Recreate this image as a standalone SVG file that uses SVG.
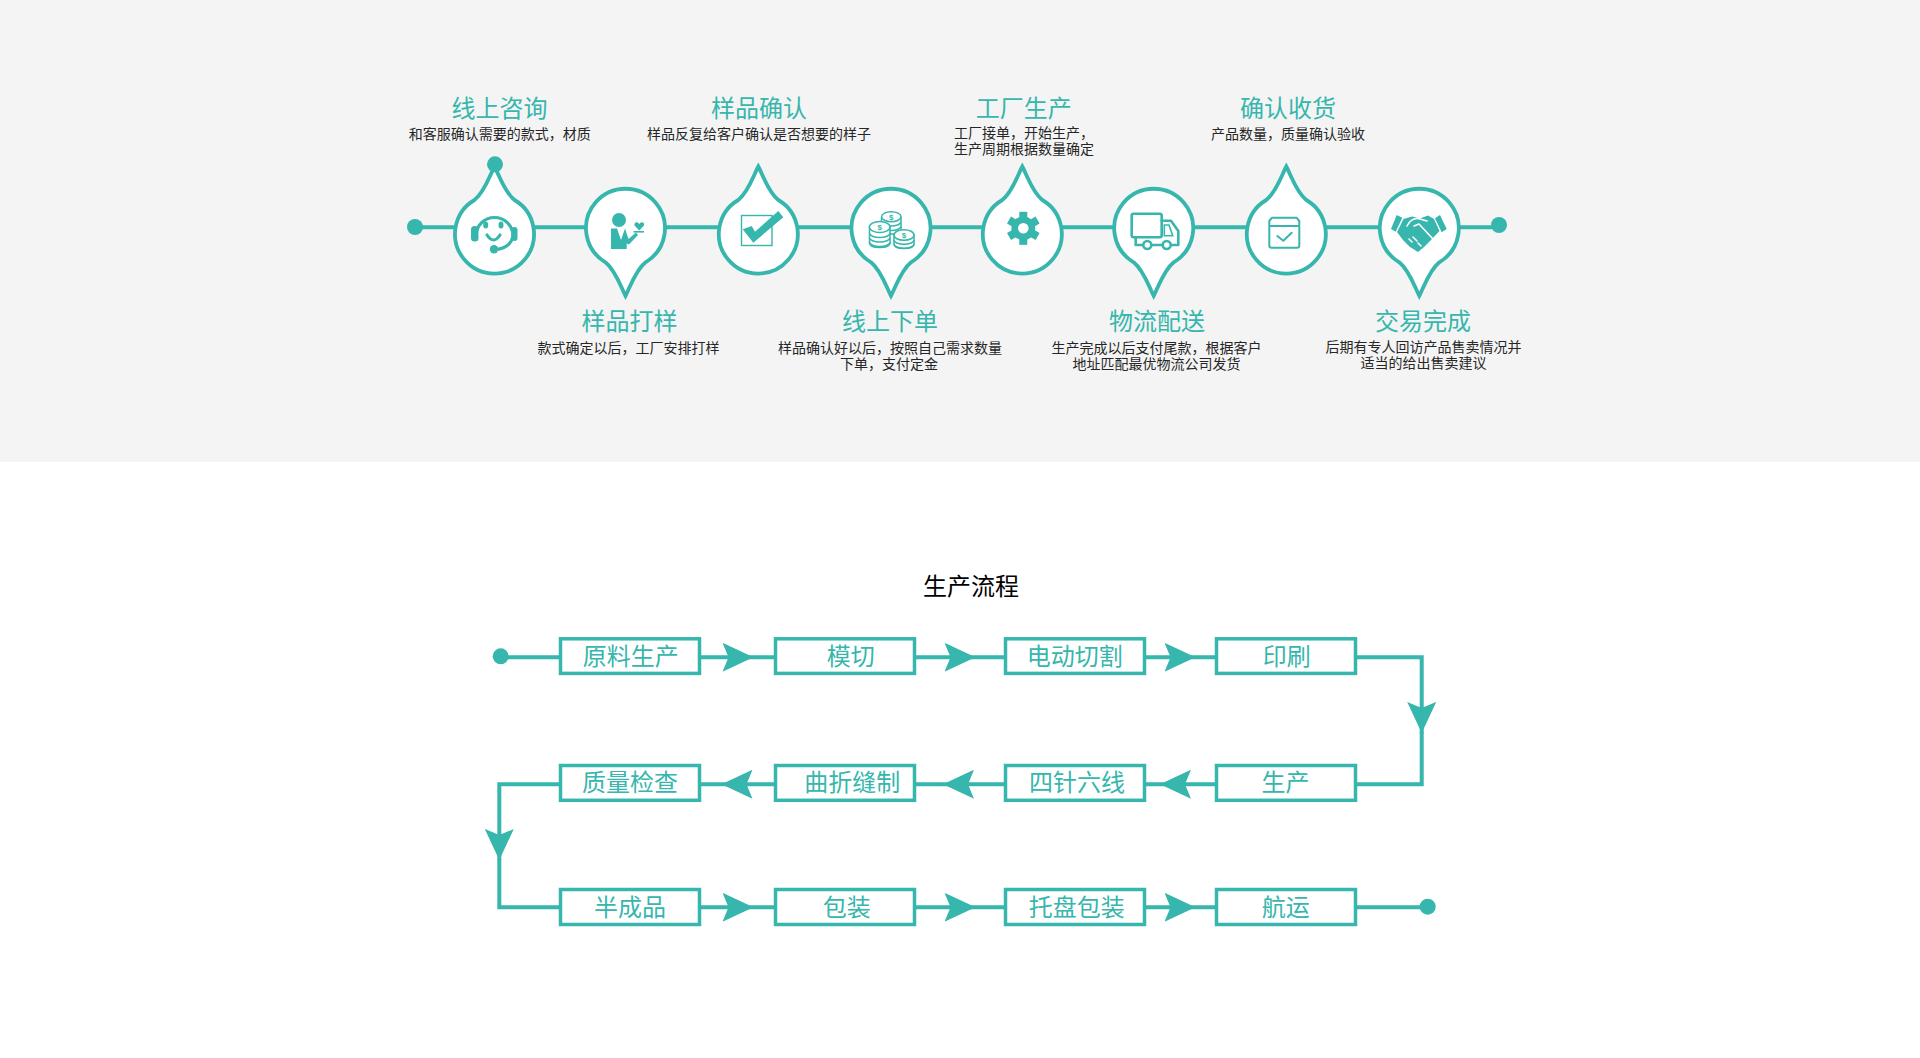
<svg xmlns="http://www.w3.org/2000/svg" width="1920" height="1058" viewBox="0 0 1920 1058">
<style>
text{font-family:"Noto Sans CJK SC","Noto Sans",sans-serif;text-anchor:middle}
.t{font-size:24px;fill:#36b6ac}
.s{font-size:14px;fill:#262626}
.h{font-size:24px;fill:#000}
.drop{fill:#fff;stroke:#36b6ac;stroke-width:3.8;stroke-linejoin:miter;stroke-miterlimit:8}
.ln{fill:none;stroke:#36b6ac;stroke-width:4}
.dot{fill:#36b6ac}
.box{fill:#fff;stroke:#36b6ac;stroke-width:3.5}
.fi{fill:#36b6ac}
.li{fill:none;stroke:#36b6ac;stroke-width:2.6;stroke-linejoin:round;stroke-linecap:round}
.wl{fill:none;stroke:#fff;stroke-width:1.6;stroke-linecap:round;stroke-linejoin:round}
.d{font-size:8px;font-weight:700;fill:#36b6ac;font-family:"Liberation Sans",sans-serif}
</style>
<defs>
<path id="dr" d="M0,-67.5C5,-58 10,-42 20,-34A39.5,39.5 0 1 1 -20,-34C-10,-42 -5,-58 0,-67.5Z"/>
<marker id="a" markerUnits="userSpaceOnUse" markerWidth="32" markerHeight="29" viewBox="0 0 32 29" refX="31" refY="14.5" orient="auto"><path d="M0,0L31,14.5L0,29L6,14.5Z" fill="#36b6ac"/></marker>
<g id="gt"><rect x="-4" y="-16.5" width="8" height="7"/></g>
</defs>
<rect id="band" x="0" y="0" width="1920" height="462" fill="#f4f4f4"/>
<g id="connectors">
<path class="ln" d="M415,227.3H1499"/>
<path class="ln" d="M501,657.3H560"/>
<path class="ln" marker-mid="url(#a)" d="M700,657.3H753.5H775"/>
<path class="ln" marker-mid="url(#a)" d="M915,657.3H975.5H1005"/>
<path class="ln" marker-mid="url(#a)" d="M1145,657.3H1195.5H1216"/>
<path class="ln" marker-end="url(#a)" d="M1356,657.3H1421.7V733"/>
<path class="ln" d="M1421.7,732V784.2H1356"/>
<path class="ln" marker-mid="url(#a)" d="M1216,784.2H1160H1145"/>
<path class="ln" marker-mid="url(#a)" d="M1005,784.2H943H915"/>
<path class="ln" marker-mid="url(#a)" d="M775,784.2H721.5H700"/>
<path class="ln" marker-end="url(#a)" d="M560,784.2H499.3V860"/>
<path class="ln" d="M499.3,859V907.3H560"/>
<path class="ln" marker-mid="url(#a)" d="M700,907.3H753.5H775"/>
<path class="ln" marker-mid="url(#a)" d="M915,907.3H975.5H1005"/>
<path class="ln" marker-mid="url(#a)" d="M1145,907.3H1195.5H1216"/>
<path class="ln" d="M1356,907.3H1428"/>
</g>
<g id="top-start"><circle class="dot" cx="415" cy="227" r="8"/></g>
<g id="top-end"><circle class="dot" cx="1499" cy="225" r="8"/></g>

<g id="n-consult">
<use href="#dr" class="drop" transform="translate(494.5,234)"/>
<circle class="dot" cx="495" cy="164.3" r="8"/>
<path d="M476,236A18.5,18.5 0 1 1 513,236Q511,247 497,249.5" fill="none" stroke="#36b6ac" stroke-width="3.2"/>
<circle class="fi" cx="494" cy="249.3" r="4.2"/>
<rect class="fi" x="471" y="226" width="7.5" height="15.5" rx="3.5"/>
<rect class="fi" x="511.5" y="227" width="6" height="14" rx="3"/>
<ellipse class="fi" cx="485.7" cy="225" rx="2.5" ry="3.5"/>
<ellipse class="fi" cx="501" cy="225" rx="2.5" ry="3.5"/>
<path d="M487,235Q493.5,245 500,235" fill="none" stroke="#36b6ac" stroke-width="3.2" stroke-linecap="round"/>
<text class="t" x="499.6" y="117">线上咨询</text>
<text class="s" x="499.8" y="139">和客服确认需要的款式，材质</text>
</g>

<g id="n-sample">
<use href="#dr" class="drop" transform="translate(625.5,228.3) scale(1,-1)"/>
<circle class="fi" cx="619" cy="220" r="7"/>
<path class="fi" d="M611,228.5H617L621,240L625,228.5L628.5,239L636,232.5L638,235L629,244.5L626.7,243.5V249H611Z"/>
<path class="fi" d="M639.3,230.5L634.5,225.5Q634,222.5 636.5,222.3Q638.5,222.3 639.3,224Q640,222.3 642.2,222.3Q644.5,222.5 644,225.5Z"/>
<rect class="fi" x="633.5" y="231" width="10.5" height="1.6"/>
<text class="t" x="629.4" y="330">样品打样</text>
<text class="s" x="628.6" y="353">款式确定以后，工厂安排打样</text>
</g>

<g id="n-confirm">
<use href="#dr" class="drop" transform="translate(758.3,234)"/>
<rect x="741.5" y="215.5" width="30.5" height="30" fill="none" stroke="#36b6ac" stroke-width="1.4"/>
<path class="fi" d="M742.7,229.3L751.7,226L755,231.7L778.3,211L783.3,217.3L753.3,242.7Z"/>
<text class="t" x="759" y="117">样品确认</text>
<text class="s" x="759" y="139">样品反复给客户确认是否想要的样子</text>
</g>

<g id="n-order">
<use href="#dr" class="drop" transform="translate(891,228.3) scale(1,-1)"/>
<g fill="#fff" stroke="#36b6ac" stroke-width="1.5">
<path d="M881.5,217V234H901V217"/><path d="M881.5,221.5A9.7,4.5 0 0 0 901,221.5M881.5,226A9.7,4.5 0 0 0 901,226"/>
<ellipse cx="891.3" cy="216.7" rx="9.7" ry="5"/>
<path d="M869.5,227.5V243Q869.5,247.5 879.7,247.5Q890,247.5 890,243V227.5Z"/><path d="M869.5,233A10.2,4.5 0 0 0 890,233M869.5,237.5A10.2,4.5 0 0 0 890,237.5M869.5,242A10.2,4.5 0 0 0 890,242"/>
<ellipse cx="879.7" cy="227" rx="10.3" ry="5.5"/>
<path d="M894,235V244Q894,248.5 904,248.5Q914,248.5 914,244V235Z"/><path d="M894,240A10,4.2 0 0 0 914,240M894,244A10,4.2 0 0 0 914,244" fill="none"/>
<ellipse cx="904" cy="235" rx="10" ry="5.3"/>
</g>
<text class="d" x="891.3" y="219.5">$</text>
<text class="d" x="879.7" y="230">$</text>
<text class="d" x="904" y="238">$</text>
<text class="t" x="890" y="330">线上下单</text>
<text class="s"><tspan x="890" y="353">样品确认好以后，按照自己需求数量</tspan><tspan x="889" y="369">下单，支付定金</tspan></text>
</g>

<g id="n-factory">
<use href="#dr" class="drop" transform="translate(1022.3,234)"/>
<g class="fi" transform="translate(1023.3,228.3)">
<use href="#gt"/><use href="#gt" transform="rotate(60)"/><use href="#gt" transform="rotate(120)"/><use href="#gt" transform="rotate(180)"/><use href="#gt" transform="rotate(240)"/><use href="#gt" transform="rotate(300)"/>
<circle r="8.6" fill="none" stroke="#36b6ac" stroke-width="6.6"/>
</g>
<text class="t" x="1023.7" y="117">工厂生产</text>
<text class="s"><tspan x="1024" y="138">工厂接单，开始生产，</tspan><tspan x="1024" y="154">生产周期根据数量确定</tspan></text>
</g>

<g id="n-logistics">
<use href="#dr" class="drop" transform="translate(1153.7,228.3) scale(1,-1)"/>
<rect class="li" x="1131.7" y="213.7" width="30" height="23.6" rx="2"/>
<path class="li" d="M1161.7,220.7H1171L1178.3,231V245H1172M1162,245H1152M1143,245H1135.7V237.5"/>
<path d="M1164.3,225H1169L1172.7,235.7H1164.3Z" fill="none" stroke="#36b6ac" stroke-width="1.6"/>
<circle class="li" cx="1147.3" cy="245" r="4"/><circle class="li" cx="1166.7" cy="245" r="4"/>
<text class="t" x="1157" y="330">物流配送</text>
<text class="s"><tspan x="1156.6" y="353">生产完成以后支付尾款，根据客户</tspan><tspan x="1156.6" y="369">地址匹配最优物流公司发货</tspan></text>
</g>

<g id="n-receive">
<use href="#dr" class="drop" transform="translate(1286.3,234)"/>
<path class="li" style="stroke-width:2" d="M1272,217.7H1296.5L1299.3,221V245.5Q1299.3,247.7 1297,247.7H1271.5Q1269.3,247.7 1269.3,245.5V221ZM1269.3,226H1299.3"/>
<path class="li" style="stroke-width:2" d="M1277.3,236L1283.3,240.7L1291.7,232.7"/>
<text class="t" x="1288" y="117">确认收货</text>
<text class="s" x="1288" y="139">产品数量，质量确认验收</text>
</g>

<g id="n-deal">
<use href="#dr" class="drop" transform="translate(1419.3,228.3) scale(1,-1)"/>
<path class="fi" d="M1396.7,215L1402.3,217.7L1395.7,231.7L1391,229Z"/>
<path class="fi" d="M1440,215L1446.7,229L1441.7,232.3L1435,218.3Z"/>
<path class="fi" d="M1403.5,219L1412,216.5L1420,218.5L1428,215.5L1434,219L1439.5,231L1431,240L1424,247L1418,252L1410,247L1403,240L1397,232Z"/>
<path class="wl" d="M1407,226Q1411,218 1418,218.5L1427,221M1414,226L1419,224L1433,239M1409,239L1412,242M1413,237L1417,241M1418,243L1421,246"/>
<text class="t" x="1423" y="330">交易完成</text>
<text class="s"><tspan x="1423.6" y="352">后期有专人回访产品售卖情况并</tspan><tspan x="1423.6" y="368">适当的给出售卖建议</tspan></text>
</g>

<g id="title"><text class="h" x="971" y="595">生产流程</text></g>
<g id="flow-start"><circle class="dot" cx="500.7" cy="656.3" r="8"/></g>
<g id="flow-end"><circle class="dot" cx="1427.7" cy="906.7" r="8"/></g>

<g id="b1"><rect class="box" x="560.5" y="638.8" width="139" height="34.6"/><text class="t" x="630.7" y="665">原料生产</text></g>
<g id="b2"><rect class="box" x="775.5" y="638.8" width="139" height="34.6"/><text class="t" x="850.7" y="665">模切</text></g>
<g id="b3"><rect class="box" x="1005.5" y="638.8" width="139" height="34.6"/><text class="t" x="1074.7" y="665">电动切割</text></g>
<g id="b4"><rect class="box" x="1216.5" y="638.8" width="139" height="34.6"/><text class="t" x="1286.7" y="665">印刷</text></g>
<g id="b5"><rect class="box" x="1216.5" y="765.5" width="139" height="34.8"/><text class="t" x="1285.5" y="791">生产</text></g>
<g id="b6"><rect class="box" x="1005.5" y="765.5" width="139" height="34.8"/><text class="t" x="1077" y="791">四针六线</text></g>
<g id="b7"><rect class="box" x="775.5" y="765.5" width="139" height="34.8"/><text class="t" x="852.3" y="791">曲折缝制</text></g>
<g id="b8"><rect class="box" x="560.5" y="765.5" width="139" height="34.8"/><text class="t" x="630" y="791">质量检查</text></g>
<g id="b9"><rect class="box" x="560.5" y="889.5" width="139" height="35"/><text class="t" x="630" y="916">半成品</text></g>
<g id="b10"><rect class="box" x="775.5" y="889.5" width="139" height="35"/><text class="t" x="846.7" y="916">包装</text></g>
<g id="b11"><rect class="box" x="1005.5" y="889.5" width="139" height="35"/><text class="t" x="1076.7" y="916">托盘包装</text></g>
<g id="b12"><rect class="box" x="1216.5" y="889.5" width="139" height="35"/><text class="t" x="1285.7" y="916">航运</text></g>
</svg>
